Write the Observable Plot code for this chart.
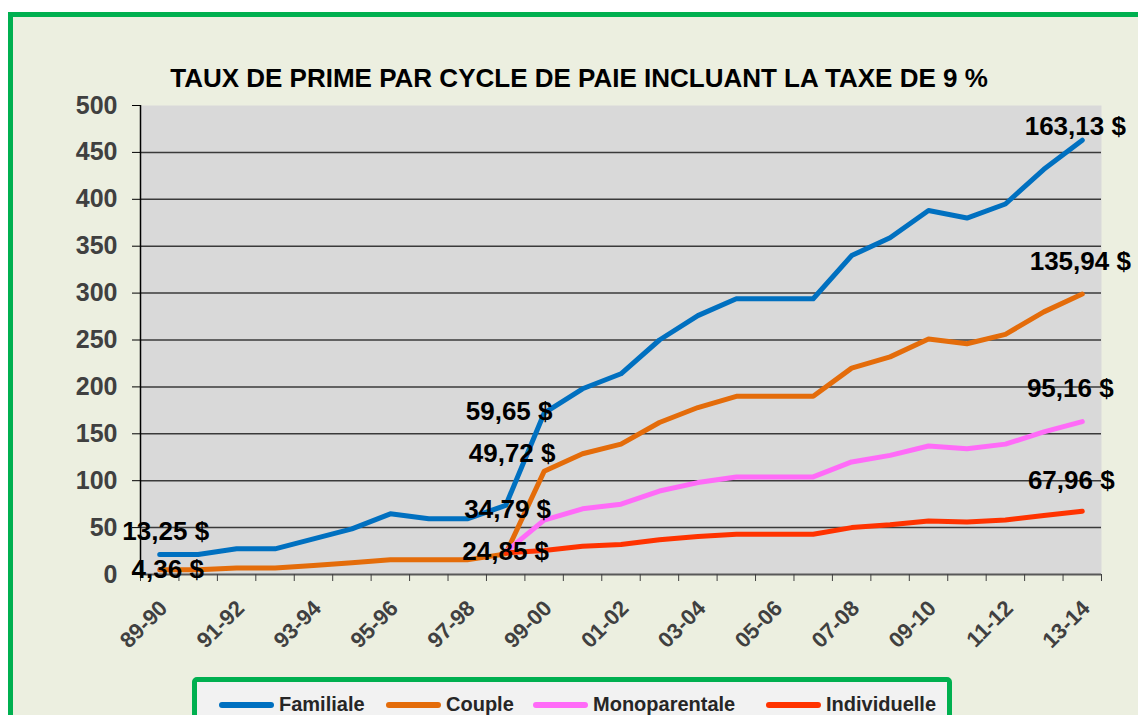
<!DOCTYPE html>
<html>
<head>
<meta charset="utf-8">
<script src="https://cdn.jsdelivr.net/npm/d3@7"></script>
<script src="https://cdn.jsdelivr.net/npm/@observablehq/plot@0.6"></script>
<style>
  html, body { margin: 0; padding: 0; background: #ffffff; width: 1138px; height: 715px; overflow: hidden; }
  #frame { position: absolute; left: 8px; top: 12px; width: 1200px; height: 800px; box-sizing: border-box;
           border: 5px solid #00B050; background: #ECEFE0; }
  #title { position: absolute; left: 0; top: 63px; width: 1158px; text-align: center;
           font: bold 26px "Liberation Sans", Arial, sans-serif; line-height: 30px; color: #000; white-space: nowrap; }
  #chart { position: absolute; left: 0; top: 0; }
  #legend { position: absolute; left: 192px; top: 677px; width: 760px; height: 60px; box-sizing: border-box;
            border: 5px solid #00B050; border-radius: 5px; background: #F2F2F2; }
  .sw { position: absolute; top: 20px; width: 55px; height: 6px; border-radius: 3px; }
  .lt { position: absolute; top: 10px; font: bold 20px "Liberation Sans", Arial, sans-serif; color: #262626; line-height: 24px; white-space: nowrap; }
</style>
</head>
<body>
<div id="frame"></div>
<div id="title"></div>
<div id="chart"></div>
<div id="legend"></div>
<script>
// ---- data ----
const titleText = "TAUX DE PRIME PAR CYCLE DE PAIE INCLUANT LA TAXE DE 9 %";
const categories = ["89-90","90-91","91-92","92-93","93-94","94-95","95-96","96-97","97-98","98-99",
                    "99-00","00-01","01-02","02-03","03-04","04-05","05-06","06-07","07-08","08-09",
                    "09-10","10-11","11-12","12-13","13-14"];
const seriesNames = ["Familiale", "Couple", "Monoparentale", "Individuelle"];
const familiale = [21.3,21.3,27.4,27.4,38,48.7,64.7,59.4,59.4,73.6,172,198,214,250,276,294,294,294,340,359,388,380,395,432,463];
const couple = [5,5,7,7,9.6,12.5,15.6,15.6,15.6,22,110,128.7,139,162,178,190,190,190,220,232,251,246,256,280,299];
const monoparentale = [null,null,null,null,null,null,null,null,null,24,58,70,75,89,98,104,104,104,120,127,137,134,139,152,163];
const individuelle = [null,null,null,null,null,null,null,null,null,23,25.6,30,32,37,40.5,43,43,43,50,53,57,56,58,63,67.5];
const yTicks = [0,50,100,150,200,250,300,350,400,450,500];
const annotText = ["13,25 $","4,36 $","59,65 $","49,72 $","34,79 $","24,85 $","163,13 $","135,94 $","95,16 $","67,96 $"];
const annotSeries = ["Familiale","Couple","Familiale","Couple","Familiale","Individuelle","Familiale","Couple","Monoparentale","Individuelle"];
const annotIndex = [0,0,10,10,9,9,24,24,24,24];

// ---- styles ----
const colors = ["#0070C0", "#E46C0A", "#FF6BF8", "#FF3300"];
const annotOffsets = [[6,-23],[8,0],[-35,-1],[-32,-18],[2,4],[0,-1],[-7,-14],[-2,-32],[-12,-33],[-11,-31]];
const FONT = "'Liberation Sans', Arial, sans-serif";

const valuesByName = {Familiale: familiale, Couple: couple, Monoparentale: monoparentale, Individuelle: individuelle};
const rows = [];
seriesNames.forEach(name => valuesByName[name].forEach((v, i) => { if (v != null) rows.push({i, v, series: name}); }));

const annots = annotText.map((t, k) => ({text: t, i: annotIndex[k], v: valuesByName[annotSeries[k]][annotIndex[k]]}));

const boundaries = d3.range(categories.length + 1).map(k => k - 0.5);
const labelIdx = d3.range(0, categories.length, 2);

document.getElementById("title").textContent = titleText;

const chart = Plot.plot({
  width: 1138, height: 670,
  marginLeft: 140, marginRight: 37, marginTop: 105, marginBottom: 96,
  style: {background: "transparent", fontFamily: FONT, overflow: "visible"},
  x: {type: "linear", domain: [-0.5, categories.length - 0.5], axis: null},
  y: {domain: [0, 500], axis: null},
  color: {domain: seriesNames, range: colors},
  marks: [
    Plot.frame({fill: "#D9D9D9", stroke: null}),
    Plot.gridY(yTicks.filter(t => t > 0 && t < 500), {stroke: "#3a3a3a", strokeOpacity: 1, strokeWidth: 1.5}),
    Plot.ruleY([0], {stroke: "#595959", strokeWidth: 2}),
    Plot.ruleX([-0.5], {stroke: "#000", strokeWidth: 1.5}),
    Plot.axisY(yTicks, {tickSize: 8, stroke: "#000", tickFormat: () => "", label: null}),
    Plot.text(yTicks, {y: d => d, frameAnchor: "left", dx: -23, textAnchor: "end", text: d => String(d),
                       fill: "#404040", fontSize: 25, fontWeight: "bold"}),
    Plot.axisX(boundaries, {tickSize: 7, stroke: "#404040", tickFormat: () => "", label: null}),
    Plot.text(labelIdx, {x: d => d, frameAnchor: "bottom", dx: 4, dy: 30, rotate: -45, textAnchor: "end",
                         lineAnchor: "middle", text: i => categories[i], fill: "#404040", fontSize: 22, fontWeight: "bold"}),
    Plot.line(rows, {x: "i", y: "v", z: "series", stroke: "series", strokeWidth: 5, strokeLinecap: "round", strokeLinejoin: "round"}),
    ...annots.map((a, k) => Plot.text([a], {x: "i", y: "v", text: "text", dx: annotOffsets[k][0], dy: annotOffsets[k][1],
                                            fontSize: 26, fontWeight: "bold", fill: "#000"}))
  ]
});
document.getElementById("chart").appendChild(chart);

// legend
const legendX = [[22, 82], [189, 249], [336, 396], [569, 629]];
const legend = document.getElementById("legend");
seriesNames.forEach((name, k) => {
  const sw = document.createElement("div");
  sw.className = "sw"; sw.style.left = legendX[k][0] + "px"; sw.style.background = colors[k];
  legend.appendChild(sw);
  const t = document.createElement("div");
  t.className = "lt"; t.style.left = legendX[k][1] + "px"; t.textContent = name;
  legend.appendChild(t);
});
</script>
</body>
</html>
